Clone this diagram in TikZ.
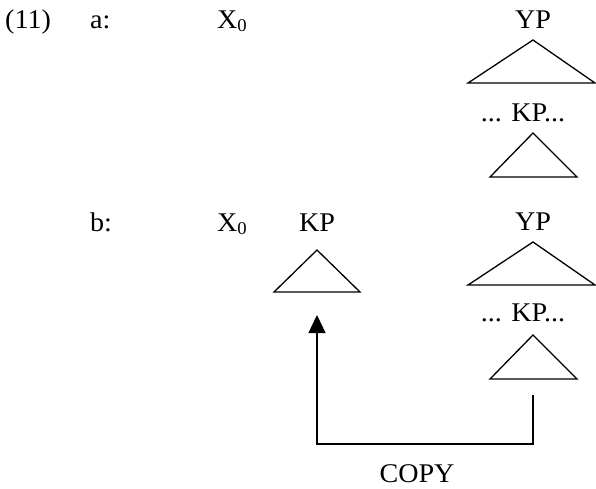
\documentclass[tikz,border=0pt]{standalone}
\usepackage{fontspec}
\setmainfont{Liberation Serif}[FakeStretch=1.04]
\usetikzlibrary{arrows.meta}

\tikzset{
  lbl/.style={inner sep=0pt, font=\fontsize{27}{30}\selectfont},
  tri/.style={draw, line width=1.3pt, line join=miter},
  copyline/.style={draw, line width=1.3pt, -{Triangle[length=18pt,width=17pt]}},
}
\newcommand{\Xnull}{X\raisebox{-3.5pt}{\fontsize{18}{18}\selectfont 0}}

\begin{document}
\begin{tikzpicture}[x=1pt,y=-1pt]
  \useasboundingbox (0,0) rectangle (596,488);

  % example (11a)
  \node[lbl, anchor=base west] (num) at (5,28) {(11)};
  \node[lbl, anchor=base west] (la) at (90,28) {a:};
  \node[lbl, anchor=base west] (xa) at (217,28) {\Xnull};
  \node[lbl, anchor=base] (ypa) at (533,28) {YP};
  \draw[tri] (533,40) -- (595,83) -- (468,83) -- cycle;
  \node[lbl, anchor=base] (kpa) at (523,121) {... KP...};
  \draw[tri] (533,133) -- (577,177) -- (490,177) -- cycle;

  % example (11b)
  \node[lbl, anchor=base west] (lb) at (90,231) {b:};
  \node[lbl, anchor=base west] (xb) at (217,231) {\Xnull};
  \node[lbl, anchor=base] (kpb) at (317,231) {KP};
  \draw[tri] (317,250) -- (360,292) -- (274,292) -- cycle;
  \node[lbl, anchor=base] (ypb) at (533,230) {YP};
  \draw[tri] (533,242) -- (595,285) -- (468,285) -- cycle;
  \node[lbl, anchor=base] (kpc) at (523,321) {... KP...};
  \draw[tri] (533,335) -- (577,379) -- (490,379) -- cycle;

  % copy movement
  \coordinate (src) at (533,395);
  \coordinate (dst) at (317,315);
  \draw[copyline] (src) |- (dst |- 0,444) -- (dst);
  \node[lbl, anchor=base] (copy) at (417,482) {COPY};
\end{tikzpicture}
\end{document}
